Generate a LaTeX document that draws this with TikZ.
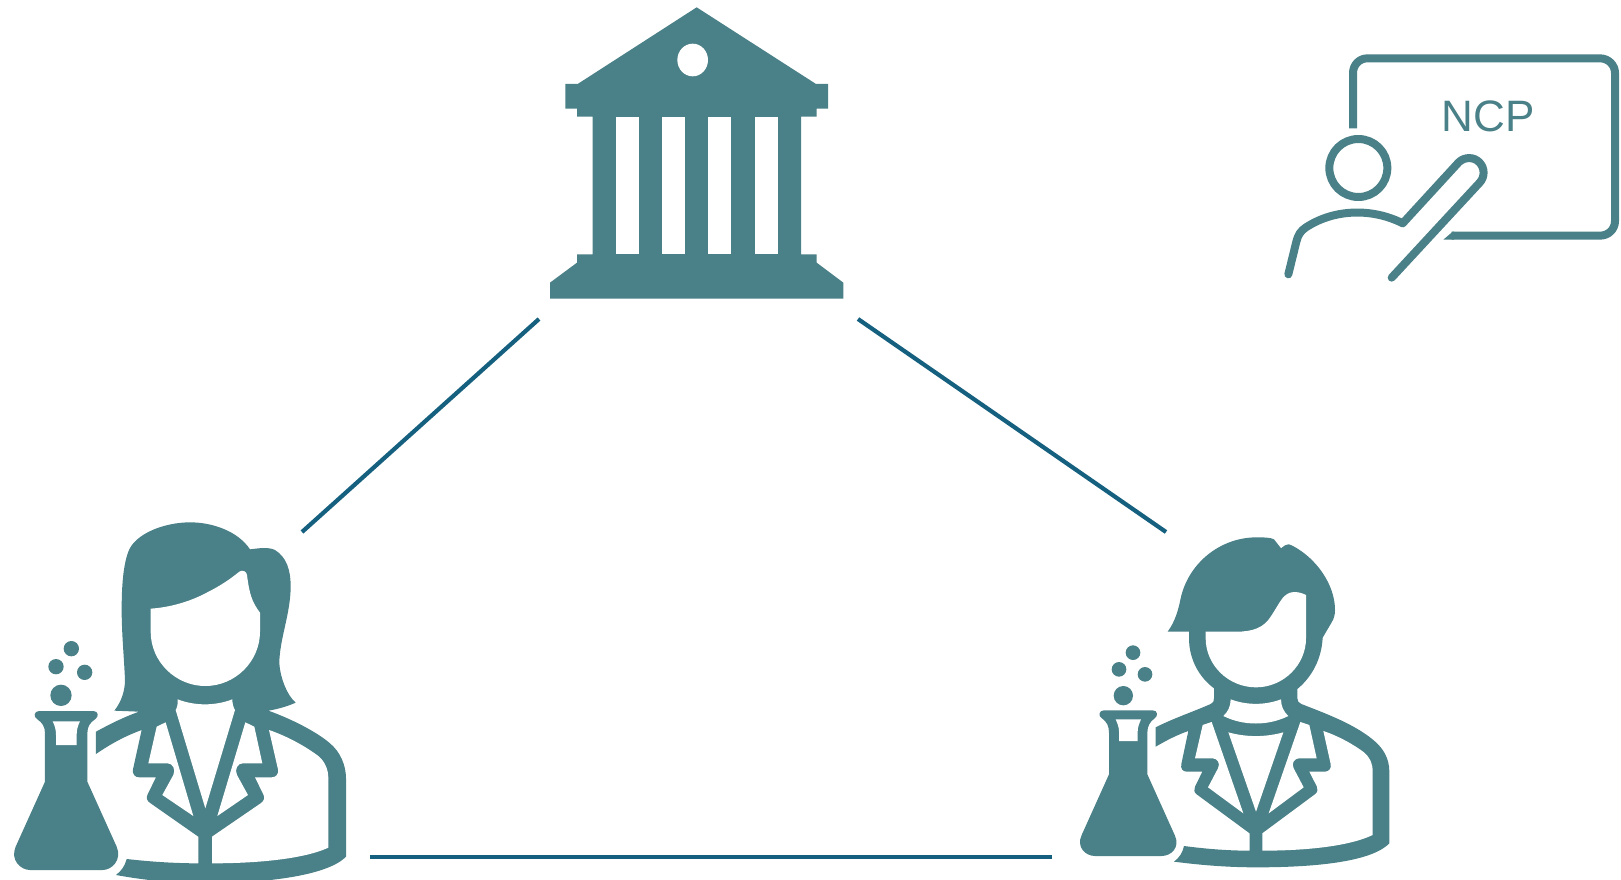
\documentclass[tikz,border=0pt]{standalone}
\usepackage{fontspec}
\setmainfont{Liberation Sans}
\definecolor{teal1}{HTML}{4A8087}
\definecolor{link1}{HTML}{15607F}
\tikzset{
  ink/.style={fill=teal1,draw=none},
  hole/.style={fill=white,draw=none},
  stroke1/.style={draw=teal1,line width=8pt,fill=none,line join=round},
  linkline/.style={draw=link1,line width=4.2pt},
  zoomA/.style={xshift=0pt,yshift=-500pt,x=0.33333pt,y=-0.33333pt},
  zoomB/.style={xshift=1060pt,yshift=-510pt,x=0.33333pt,y=-0.33333pt},
  zoomC/.style={xshift=530pt,yshift=0pt,x=0.33333pt,y=-0.33333pt},
  zoomD/.style={xshift=1270pt,yshift=-40pt,x=0.33333pt,y=-0.33333pt},
}
\begin{document}
\begin{tikzpicture}[x=1pt,y=-1pt]
\clip (0,0) rectangle (1621,880);
\fill[white] (0,0) rectangle (1621,880);

% connectors
\coordinate (instL) at (539,319);
\coordinate (womanT) at (302,532);
\coordinate (instR) at (858,319);
\coordinate (manT) at (1166,532);
\coordinate (womanR) at (370,857);
\coordinate (manL) at (1052,857);
\draw[linkline] (instL) -- (womanT);
\draw[linkline] (instR) -- (manT);
\draw[linkline] (womanR) -- (manL);

% building
\begin{scope}[zoomC]
\path[ink] (500,22) -- (858,252) -- (894,252) -- (894,326) -- (860,326) -- (860,350) -- (813,350) -- (813,763) -- (860,763) -- (860,788) -- (940,848) -- (940,896) -- (60,896) -- (60,848) -- (141,788) -- (141,763) -- (188,763) -- (188,350) -- (141,350) -- (141,326) -- (106,326) -- (106,252) -- (143,252) -- cycle;
\path[hole] (257,350) rectangle (326,763);
\path[hole] (396,350) rectangle (465,763);
\path[hole] (535,350) rectangle (604,763);
\path[hole] (674,350) rectangle (743,763);
\path[hole] (488,180) ellipse [x radius=46pt/3, y radius=49pt/3];
\end{scope}

% woman
\begin{scope}[zoomA]
\path[ink] (288,695) .. controls (330,672) and (370,652) .. (417,635) -- (343,632)
  .. controls (365,605) and (375,570) .. (375,540)
  .. controls (372,470) and (365,400) .. (365,330)
  .. controls (365,255) and (370,195) .. (385,155)
  .. controls (405,100) and (495,67) .. (570,67)
  .. controls (640,67) and (715,95) .. (750,148)
  .. controls (775,145) and (805,140) .. (825,150)
  .. controls (860,172) and (872,210) .. (872,260)
  .. controls (872,340) and (838,420) .. (838,490)
  .. controls (840,530) and (860,585) .. (887,608)
  .. controls (860,620) and (830,628) .. (805,632)
  .. controls (870,655) and (950,695) .. (990,730)
  .. controls (1020,755) and (1038,795) .. (1038,835)
  -- (1038,1070)
  .. controls (980,1130) and (780,1150) .. (616,1150)
  .. controls (520,1150) and (430,1140) .. (348,1125)
  .. controls (365,1112) and (375,1097) .. (380,1077)
  .. controls (450,1085) and (525,1090) .. (595,1090)
  -- (595,1010) -- (452,910)
  .. controls (440,903) and (438,893) .. (443,883)
  -- (468,832) -- (418,832)
  .. controls (405,832) and (396,822) .. (399,808)
  -- (425,690)
  .. controls (375,708) and (330,733) .. (288,762) -- cycle;
\path[hole] (636,1090) -- (636,1010) -- (782,910)
  .. controls (793,903) and (795,893) .. (790,883)
  -- (765,832) -- (815,832)
  .. controls (828,832) and (837,822) .. (834,808)
  -- (807,690)
  .. controls (860,708) and (915,738) .. (955,768)
  .. controls (975,785) and (985,808) .. (985,835)
  -- (985,1043)
  .. controls (900,1082) and (740,1090) .. (636,1090) -- cycle;
\path[hole] (470,680) -- (497,667) -- (580,948) -- (487,885) -- (520,825)
  .. controls (528,808) and (518,790) .. (503,790)
  -- (445,790) -- cycle;
\path[hole] (763,680) -- (736,667) -- (652,948) -- (744,885) -- (711,825)
  .. controls (703,808) and (713,790) .. (728,790)
  -- (787,790) -- cycle;
\path[hole] (533,598) .. controls (585,618) and (645,618) .. (697,598)
  .. controls (697,610) and (700,622) .. (705,630)
  -- (616,925) -- (527,630)
  .. controls (532,622) and (534,610) .. (533,598) -- cycle;
\path[hole] (452,326) .. controls (510,322) and (570,305) .. (620,278)
  .. controls (660,258) and (690,238) .. (718,215)
  .. controls (728,208) and (740,215) .. (741,225)
  .. controls (748,280) and (755,305) .. (780,338)
  -- (780,395)
  .. controls (780,485) and (705,558) .. (616,558)
  .. controls (527,558) and (452,485) .. (452,395) -- cycle;
% flask
\path[ink] (118,633) -- (280,633)
  .. controls (295,633) and (298,650) .. (285,658)
  .. controls (270,668) and (262,680) .. (262,700)
  -- (262,845) -- (350,1040)
  .. controls (367,1080) and (335,1110) .. (308,1110)
  -- (90,1110)
  .. controls (62,1110) and (30,1080) .. (47,1040)
  -- (135,845) -- (135,700)
  .. controls (135,680) and (127,668) .. (112,658)
  .. controls (99,650) and (102,633) .. (118,633) -- cycle;
\path[hole] (158,664) -- (240,664)
  .. controls (233,678) and (230,690) .. (230,705)
  -- (230,735) -- (168,735) -- (168,705)
  .. controls (168,690) and (165,678) .. (158,664) -- cycle;
\path[ink] (214,446) circle [radius=23pt/3];
\path[ink] (168,500) circle [radius=23pt/3];
\path[ink] (254,517) circle [radius=23pt/3];
\path[ink] (183,586) circle [radius=32pt/3];
\end{scope}

% man
\begin{scope}[zoomB]
\path[ink] (287,652) .. controls (340,625) and (400,605) .. (452,582)
  .. controls (460,578) and (462,574) .. (462,565)
  -- (462,535)
  .. controls (415,500) and (387,445) .. (387,385)
  -- (387,365) -- (323,365)
  .. controls (345,335) and (355,300) .. (362,265)
  .. controls (385,160) and (480,82) .. (590,82)
  .. controls (610,82) and (630,82) .. (642,88)
  -- (663,115) -- (675,106)
  .. controls (682,101) and (690,102) .. (697,107)
  .. controls (770,145) and (825,225) .. (825,300)
  .. controls (825,315) and (822,325) .. (815,337)
  -- (788,383)
  .. controls (785,445) and (757,500) .. (712,537)
  -- (712,565)
  .. controls (712,574) and (716,578) .. (724,582)
  .. controls (790,608) and (880,640) .. (940,690)
  .. controls (970,715) and (988,745) .. (988,785)
  -- (988,1000)
  .. controls (930,1060) and (740,1072) .. (590,1072)
  .. controls (500,1072) and (420,1065) .. (342,1055)
  .. controls (358,1043) and (368,1028) .. (372,1008)
  .. controls (440,1017) and (505,1022) .. (569,1022)
  -- (569,970) -- (410,853)
  .. controls (402,847) and (401,838) .. (405,830)
  -- (427,785) -- (380,785)
  .. controls (368,785) and (361,775) .. (364,762)
  -- (385,663)
  .. controls (350,675) and (318,692) .. (287,710) -- cycle;
\path[hole] (607,1022) -- (607,970) -- (765,853)
  .. controls (773,847) and (775,838) .. (771,830)
  -- (748,785) -- (795,785)
  .. controls (807,785) and (815,775) .. (812,762)
  -- (790,663)
  .. controls (835,678) and (880,703) .. (912,727)
  .. controls (930,743) and (938,760) .. (938,785)
  -- (938,975)
  .. controls (860,1012) and (720,1022) .. (607,1022) -- cycle;
\path[hole] (428,645) -- (455,636) -- (550,910) -- (444,832) -- (474,775)
  .. controls (482,760) and (472,745) .. (458,745)
  -- (405,745) -- cycle;
\path[hole] (748,645) -- (721,636) -- (626,910) -- (731,832) -- (701,775)
  .. controls (693,760) and (703,745) .. (717,745)
  -- (770,745) -- cycle;
\path[hole] (505,667) .. controls (560,682) and (615,682) .. (670,667) -- (588,905) -- cycle;
\path[hole] (512,568) .. controls (560,586) and (615,586) .. (663,568)
  .. controls (663,590) and (672,606) .. (685,618)
  .. controls (625,648) and (550,648) .. (490,618)
  .. controls (503,606) and (512,590) .. (512,568) -- cycle;
\path[hole] (437,365) -- (530,365)
  .. controls (580,365) and (612,352) .. (632,320)
  .. controls (660,278) and (665,258) .. (690,248)
  .. controls (705,243) and (725,248) .. (738,255)
  -- (738,385)
  .. controls (738,465) and (670,532) .. (588,532)
  .. controls (505,532) and (437,465) .. (437,385) -- cycle;
% flask
\path[ink] (132,601) -- (278,601)
  .. controls (293,601) and (295,618) .. (284,625)
  .. controls (270,635) and (262,648) .. (262,668)
  -- (262,793) -- (344,975)
  .. controls (362,1012) and (333,1038) .. (305,1038)
  -- (105,1038)
  .. controls (77,1038) and (48,1012) .. (65,975)
  -- (147,793) -- (147,668)
  .. controls (147,648) and (140,635) .. (126,625)
  .. controls (113,618) and (117,601) .. (132,601) -- cycle;
\path[hole] (167,628) -- (243,628)
  .. controls (237,642) and (233,652) .. (233,665)
  -- (233,693) -- (177,693) -- (177,665)
  .. controls (177,652) and (173,642) .. (167,628) -- cycle;
\path[ink] (219,428) circle [radius=22pt/3];
\path[ink] (177,478) circle [radius=22pt/3];
\path[ink] (255,493) circle [radius=22pt/3];
\path[ink] (190,557) circle [radius=29pt/3];
\end{scope}

% presenter
\begin{scope}[zoomD]
\draw[stroke1] (249,265) -- (249,99)
  .. controls (249,75) and (268,55) .. (292,55)
  -- (990,55)
  .. controls (1015,55) and (1035,75) .. (1035,99)
  -- (1035,543)
  .. controls (1035,568) and (1015,587) .. (990,587)
  -- (545,587);
\path[ink] (548,575) -- (520,599) -- (552,599) -- (552,575) -- cycle;
\draw[stroke1] (265,384) circle [radius=87pt/3];
\draw[stroke1,line cap=round] (55,703) -- (79,605)
  .. controls (84,585) and (92,572) .. (108,562)
  .. controls (195,505) and (310,505) .. (398,550)
  -- (566,367)
  .. controls (583,350) and (612,350) .. (628,367)
  .. controls (645,384) and (645,412) .. (628,429)
  -- (365,713);
\node[text=teal1,inner sep=0pt,font=\fontsize{44}{44}\selectfont] (ncp) at (655,229) {NCP};
\end{scope}
\end{tikzpicture}
\end{document}
